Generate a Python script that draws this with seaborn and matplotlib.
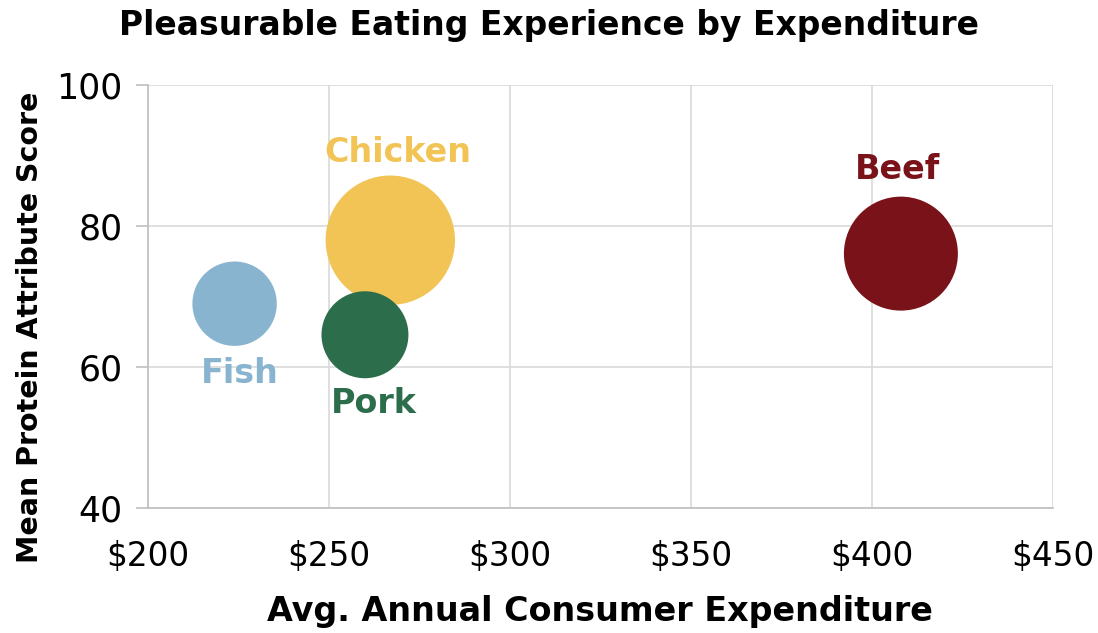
import matplotlib
matplotlib.use("Agg")
import matplotlib.pyplot as plt
import pandas as pd
import seaborn as sns

# data
proteins = ["Fish", "Chicken", "Pork", "Beef"]
expenditure = [224, 267, 260, 408]
score = [69.0, 78.0, 64.6, 76.1]
bubble = [17.8, 41.9, 18.9, 32.5]
colors = ["#89B4D0", "#F2C455", "#2C6E4C", "#7A1219"]

# label offsets from bubble centre (points), baseline aligned
label_offsets = [(4, -57), (5.5, 56.5), (6.3, -56.5), (-2.4, 53.6)]

df = pd.DataFrame({"protein": proteins, "exp": expenditure,
                   "score": score, "bubble": bubble})

sns.set_theme(style="whitegrid")
plt.rcParams["font.family"] = ["DejaVu Sans"]
plt.rcParams["text.color"] = "black"
plt.rcParams["axes.labelcolor"] = "black"

fig = plt.figure(figsize=(10.98, 6.33), dpi=100)
ax = fig.add_axes([0.1345, 0.197, 0.8245, 0.6687])

sns.scatterplot(data=df, x="exp", y="score", hue="protein",
                palette=dict(zip(proteins, colors)), size="bubble",
                sizes=(3693, 8680), size_norm=(min(bubble), max(bubble)),
                linewidth=0, alpha=1, legend=False, ax=ax, zorder=3)

for p, x, y, c, off in zip(proteins, expenditure, score, colors, label_offsets):
    ax.annotate(p, (x, y), xytext=off, textcoords="offset points",
                ha="center", va="baseline", color=c, fontsize=24,
                fontweight="bold")

ax.set_xlim(200, 450)
ax.set_ylim(40, 100)
ax.set_xticks([200, 250, 300, 350, 400, 450])
ax.set_xticklabels(["$200", "$250", "$300", "$350", "$400", "$450"])
ax.set_yticks([40, 60, 80, 100])

ax.grid(True, color="#D9D9D9", linewidth=1.2)
ax.set_facecolor("white")
for s in ["top", "right"]:
    ax.spines[s].set_visible(False)
for s in ["left", "bottom"]:
    ax.spines[s].set_color("#BFBFBF")
    ax.spines[s].set_linewidth(1.2)

ax.tick_params(axis="y", which="both", left=True, length=9, color="#BFBFBF",
               width=1.2, labelsize=25, labelcolor="black", pad=9)
ax.tick_params(axis="x", length=0, labelsize=23.5, labelcolor="black", pad=23)

ax.set_xlabel("Avg. Annual Consumer Expenditure", fontsize=24,
              fontweight="bold", labelpad=16)
ax.set_ylabel("Mean Protein Attribute Score", fontsize=20.5,
              fontweight="bold")
ax.yaxis.set_label_coords(-0.114, 0.428)

fig.suptitle("Pleasurable Eating Experience by Expenditure", fontsize=23.8,
             fontweight="bold", x=0.5, y=0.985, va="top")

fig.savefig("out.png", dpi=100)
